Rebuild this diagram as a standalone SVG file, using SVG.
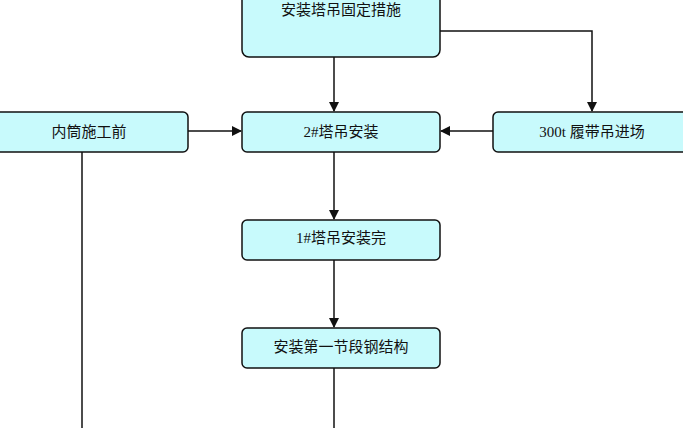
<svg xmlns="http://www.w3.org/2000/svg" width="683" height="428" viewBox="0 0 683 428">
<defs>
<style>
.n{fill:#c8fafc;stroke:#111;stroke-width:1.5}
.t{font-family:"Liberation Serif","Noto Sans CJK SC",serif;font-size:15px;fill:#111;text-anchor:middle}
.c{stroke:#111;stroke-width:1.5;fill:none}
</style>
<marker id="a" markerWidth="10" markerHeight="10" refX="9" refY="5" orient="auto" markerUnits="userSpaceOnUse"><path d="M0,0 L10,5 L0,10 z" fill="#111"/></marker>
</defs>
<rect width="683" height="428" fill="#fff"/>
<g id="n1"><rect class="n" x="242" y="-10" width="198" height="67" rx="7"/><text class="t" x="341" y="15">安装塔吊固定措施</text></g>
<g id="n2"><rect class="n" x="-10" y="112" width="198" height="40" rx="5"/><text class="t" x="89" y="137">内筒施工前</text></g>
<g id="n3"><rect class="n" x="242" y="112" width="198" height="40" rx="5"/><text class="t" x="341" y="137">2#塔吊安装</text></g>
<g id="n4"><rect class="n" x="493" y="112" width="200" height="40" rx="5"/><text class="t" x="592" y="137">300t 履带吊进场</text></g>
<g id="n5"><rect class="n" x="242" y="220" width="198" height="40" rx="5"/><text class="t" x="341" y="243">1#塔吊安装完</text></g>
<g id="n6"><rect class="n" x="242" y="328" width="198" height="40" rx="5"/><text class="t" x="341" y="352">安装第一节段钢结构</text></g>
<g id="edges">
<path class="c" d="M334,57 V111" marker-end="url(#a)"/>
<path class="c" d="M440,31 H592 V111" marker-end="url(#a)"/>
<path class="c" d="M188,131 H241" marker-end="url(#a)"/>
<path class="c" d="M493,131 H441" marker-end="url(#a)"/>
<path class="c" d="M334,152 V219" marker-end="url(#a)"/>
<path class="c" d="M334,260 V327" marker-end="url(#a)"/>
<path class="c" d="M334,368 V428"/>
<path class="c" d="M82,152 V428"/>
</g>
</svg>
